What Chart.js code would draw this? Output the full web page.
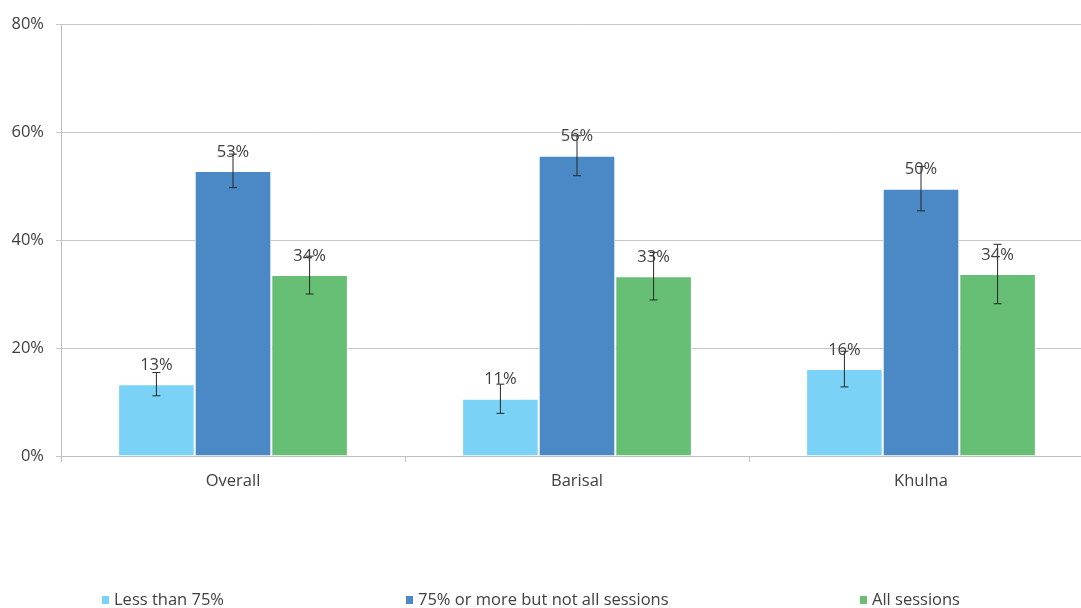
<!DOCTYPE html>
<html>
<head>
<meta charset="utf-8">
<script src="https://cdn.jsdelivr.net/npm/chart.js@4"></script>
<style>
  html, body { margin: 0; padding: 0; background: #fff; overflow: hidden; }
  #wrap { position: absolute; left: 0; top: 0; width: 1100px; height: 608px; }
  .leg { position: absolute; top: 589px; font: 16.5px/20px "Open Sans", Arial, sans-serif; color: #404040; white-space: nowrap; }
  .leg i { display: inline-block; width: 7px; height: 8px; margin-right: 5px; vertical-align: 1px; }
</style>
</head>
<body>
<div id="wrap"><canvas id="chart" width="1100" height="608"></canvas></div>
<div class="leg" style="left:102px"><i style="background:#7ad3f6"></i>Less than 75%</div>
<div class="leg" style="left:406px"><i style="background:#4a89c5"></i>75% or more but not all sessions</div>
<div class="leg" style="left:860px"><i style="background:#66bf74"></i>All sessions</div>
<script>
const categories = ['Overall', 'Barisal', 'Khulna'];
const seriesNames = ['Less than 75%', '75% or more but not all sessions', 'All sessions'];
const lessThan75 = [13.3, 10.6, 16.1];
const moreThan75 = [52.8, 55.6, 49.5];
const allSessions = [33.5, 33.3, 33.7];
const errLess = [2.15, 2.7, 3.3];
const errMore = [3.1, 3.7, 4.1];
const errAll = [3.5, 4.4, 5.5];
const labelLess = ['13%', '11%', '16%'];
const labelMore = ['53%', '56%', '50%'];
const labelAll = ['34%', '33%', '34%'];
const yTicks = [0, 20, 40, 60, 80];

const colors = ['#7ad3f6', '#4a89c5', '#66bf74'];
const errors = [errLess, errMore, errAll];
const labels = [labelLess, labelMore, labelAll];
const FONT = '"Open Sans", Arial, sans-serif';
const FSIZE = 16.5;

const errorBars = {
  id: 'errorBars',
  afterDatasetsDraw(chart) {
    const ctx = chart.ctx;
    const y = chart.scales.y;
    chart.data.datasets.forEach((ds, i) => {
      const meta = chart.getDatasetMeta(i);
      meta.data.forEach((bar, j) => {
        const v = ds.data[j];
        const e = errors[i][j];
        const top = y.getPixelForValue(v + e);
        const bot = y.getPixelForValue(v - e);
        ctx.save();
        ctx.strokeStyle = '#262626';
        ctx.lineWidth = 1;
        ctx.beginPath();
        ctx.moveTo(bar.x, top); ctx.lineTo(bar.x, bot);
        ctx.moveTo(bar.x - 4, top); ctx.lineTo(bar.x + 4, top);
        ctx.moveTo(bar.x - 4, bot); ctx.lineTo(bar.x + 4, bot);
        ctx.stroke();
        ctx.fillStyle = '#404040';
        ctx.font = FSIZE + 'px ' + FONT;
        ctx.textAlign = 'center';
        ctx.textBaseline = 'middle';
        ctx.fillText(labels[i][j], bar.x, bar.y - 19);
        ctx.restore();
      });
    });
  }
};

new Chart(document.getElementById('chart'), {
  type: 'bar',
  data: {
    labels: categories,
    datasets: [
      { label: seriesNames[0], data: lessThan75, backgroundColor: colors[0] },
      { label: seriesNames[1], data: moreThan75, backgroundColor: colors[1] },
      { label: seriesNames[2], data: allSessions, backgroundColor: colors[2] }
    ].map(d => Object.assign(d, {
      borderColor: '#ffffff', borderWidth: 1,
      categoryPercentage: 0.668, barPercentage: 1
    }))
  },
  options: {
    responsive: false,
    animation: false,
    devicePixelRatio: 1,
    layout: { padding: { top: 24, right: 7, left: 0, bottom: 0 } },
    plugins: { legend: { display: false }, tooltip: { enabled: false } },
    scales: {
      x: {
        grid: { display: true, drawOnChartArea: false, offset: true, color: '#bfbfbf', tickLength: 6 },
        border: { color: '#bfbfbf' },
        ticks: { color: '#404040', font: { size: FSIZE, family: FONT }, padding: 9 },
        afterFit(s) { s.height = 152; }
      },
      y: {
        min: 0, max: 80,
        afterBuildTicks(s) { s.ticks = yTicks.map(v => ({ value: v })); },
        grid: { color: '#c8c8c8', tickLength: 5 },
        border: { color: '#bfbfbf' },
        ticks: { color: '#404040', font: { size: FSIZE, family: FONT }, padding: 12,
          callback: v => v + '%' },
        afterFit(s) { s.width = 61; }
      }
    }
  },
  plugins: [errorBars]
});
</script>
</body>
</html>
